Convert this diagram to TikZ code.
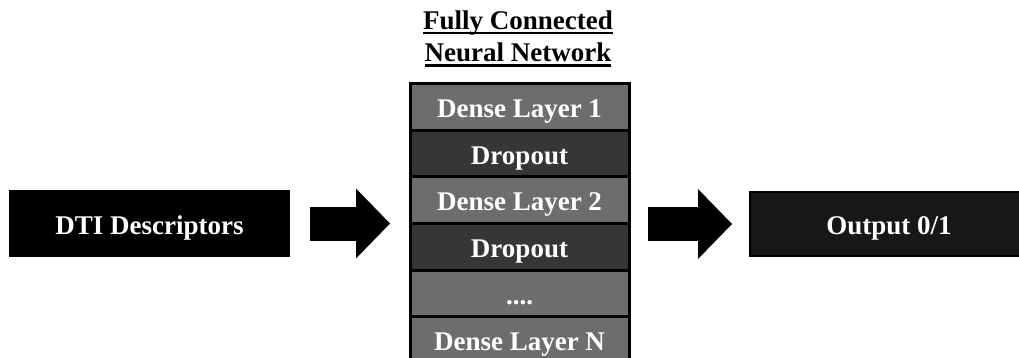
\documentclass[tikz,border=0pt]{standalone}
\usepackage{fontspec}
\setmainfont{Liberation Serif}
\usetikzlibrary{arrows.meta,positioning,calc}
\definecolor{denseclr}{RGB}{111,108,108}
\definecolor{dropclr}{RGB}{56,54,53}
\definecolor{outclr}{RGB}{23,23,23}

\begin{document}
\begin{tikzpicture}[x=1pt,y=-1pt,
  every node/.style={font=\fontsize{27}{33}\selectfont\bfseries},
  title/.style={anchor=base,inner sep=0pt,outer sep=0pt},
  layer/.style={draw=black,line width=3pt,minimum width=219pt,minimum height=46.6pt,
    text=white,text height=21pt,text depth=0pt,inner sep=0pt,outer sep=0pt},
  block/.style={text=white,text height=21pt,text depth=0pt,inner sep=0pt,outer sep=0pt},
  fatarrow/.style={line width=34pt,-{Triangle[length=34pt,width=70pt,line width=0pt]}}]
  \useasboundingbox (0,0) rectangle (1019,358);
  \node[title] (title1) at (518,29.3) {Fully Connected};
  \node[title] (title2) at (518,62) {Neural Network};
  \foreach \t in {title1,title2}
    \draw[line width=2.3pt] ($(\t.base west)+(0,3.6)$) -- ($(\t.base east)+(0,3.6)$);
  \foreach \i/\txt/\col in {1/Dense Layer 1/denseclr,2/Dropout/dropclr,3/Dense Layer 2/denseclr,
      4/Dropout/dropclr,5/{....}/denseclr,6/Dense Layer N/denseclr}
    \node[layer,fill=\col] (l\i) at (519.5,{60.5+46.6*\i}) {\txt};
  \node[block,fill=black,minimum width=281pt,minimum height=67pt] (dti) at (149.5,223.5) {DTI Descriptors};
  \node[block,fill=outclr,draw=black,line width=2pt,minimum width=278pt,minimum height=64pt] (out) at (889,224) {Output 0/1};
  \draw[fatarrow,shorten <=20pt,shorten >=20pt] (dti.east) -- (dti.east -| l1.west);
  \draw[fatarrow,shorten <=19pt,shorten >=18pt] (l1.east |- out.west) -- (out.west);
\end{tikzpicture}
\end{document}
